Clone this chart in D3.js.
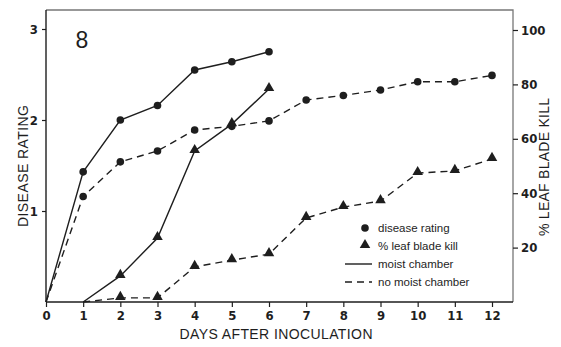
<html>
<style>
  body { margin: 0; background: #fff; }
  svg { font-family: "Liberation Sans", Helvetica, Arial, sans-serif; }
</style>
<script src="https://d3js.org/d3.v7.min.js"></script>
<body>
<svg id="chart" width="561" height="347"></svg>
</body>
<script>
  // days after inoculation
  const days = [0, 1, 2, 3, 4, 5, 6, 7, 8, 9, 10, 11, 12]
  // disease rating (left axis)
  const ratingMoist = [0, 1.43, 2.0, 2.16, 2.55, 2.64, 2.75]
  const ratingDry = [0, 1.16, 1.54, 1.66, 1.89, 1.93, 1.99, 2.22, 2.27, 2.33, 2.42, 2.42, 2.49]
  // % leaf blade kill (right axis), starting at day 1
  const killMoist = [0, 9.6, 23.5, 55.5, 65.4, 78.3]
  const killDry = [0, 1.5, 1.5, 12.9, 15.4, 17.6, 30.9, 34.9, 37.1, 47.4, 48.2, 52.6]
  const leftTicks = [1, 2, 3]
  const rightTicks = [20, 40, 60, 80, 100]
  const legendItems = ["disease rating", "% leaf blade kill", "moist chamber", "no moist chamber"]

  const ink = "#1e1e1e"
  const svg = d3.select("#chart")
  const x = d3.scaleLinear().domain([0, 12]).range([46, 492])
  const yL = d3.scaleLinear().domain([0, 3]).range([302, 29])
  const yR = d3.scaleLinear().domain([0, 100]).range([302, 30])
  const frameTop = 10, frameRight = 513

  // frame (top and right edges look faint in the scan)
  svg.append("path")
    .attr("d", `M${x(0)},${frameTop}H${frameRight}V${yL(0)}`)
    .attr("fill", "none").attr("stroke", "#777").attr("stroke-width", 1.3)

  // axes
  const xAxis = svg.append("g").attr("transform", `translate(0,${yL(0)})`)
    .call(d3.axisBottom(x).tickValues(days).tickSize(5).tickSizeOuter(0).tickPadding(4))
  xAxis.select(".domain").attr("d", `M${x(0)},0H${frameRight}`)

  const lAxis = svg.append("g").attr("transform", `translate(${x(0)},0)`)
    .call(d3.axisLeft(yL).tickValues(leftTicks).tickFormat(d3.format("d"))
      .tickSize(4).tickSizeOuter(0).tickPadding(4))
  lAxis.select(".domain").attr("d", `M0,${yL(0)}V${frameTop}`)

  const rAxis = svg.append("g").attr("transform", `translate(${frameRight},0)`)
    .call(d3.axisRight(yR).tickValues(rightTicks).tickSize(5).tickSizeOuter(0).tickPadding(3))
  rAxis.select(".domain").remove()

  svg.selectAll(".domain").attr("stroke", ink).attr("stroke-width", 1.4)
  svg.selectAll(".tick line").attr("stroke", ink).attr("stroke-width", 1.2)
  svg.selectAll(".tick text").attr("fill", ink).style("font-size", "13px")
    .style("font-weight", "bold").style("font-family", "'Liberation Sans Narrow', 'DejaVu Sans Condensed', sans-serif")

  // axis titles
  function title(t, tf, len) {
    svg.append("text").attr("transform", tf).attr("text-anchor", "middle")
      .attr("fill", ink).style("font-size", "14px")
      .attr("textLength", len).attr("lengthAdjust", "spacing")
      .text(t)
  }
  title("DAYS AFTER INOCULATION", "translate(276,339)", 193)
  title("DISEASE RATING", "translate(28,166) rotate(-90)", 122)
  title("% LEAF BLADE KILL", "translate(549,167) rotate(-90)", 138)

  // panel number
  svg.append("text").attr("x", 82).attr("y", 48).attr("text-anchor", "middle")
    .attr("fill", ink).style("font-size", "23px").text("8")

  const dash = "7,5"
  const lineL = d3.line().x((d, i) => x(days[i])).y(d => yL(d))
  const lineR = d3.line().x((d, i) => x(days[i + 1])).y(d => yR(d))

  function series(values, line, dashed) {
    svg.append("path").datum(values).attr("d", line)
      .attr("fill", "none").attr("stroke", ink).attr("stroke-width", 1.4)
      .attr("stroke-dasharray", dashed ? dash : null)
  }
  series(ratingMoist, lineL, false)
  series(ratingDry, lineL, true)
  series(killMoist, lineR, false)
  series(killDry, lineR, true)

  const tri = d3.symbol().type(d3.symbolTriangle).size(48)
  function circles(values) {
    svg.append("g").selectAll("circle").data(values.slice(1)).join("circle")
      .attr("cx", (d, i) => x(days[i + 1])).attr("cy", d => yL(d))
      .attr("r", 3.8).attr("fill", ink)
  }
  function triangles(values) {
    svg.append("g").selectAll("path").data(values.slice(1)).join("path")
      .attr("d", tri)
      .attr("transform", (d, i) => `translate(${x(days[i + 2])},${yR(d) - 1})`)
      .attr("fill", ink)
  }
  circles(ratingMoist)
  circles(ratingDry)
  triangles(killMoist)
  triangles(killDry)

  // legend
  const lg = svg.append("g").attr("transform", "translate(345,228)")
  legendItems.forEach((t, i) => {
    const cy = i * 18
    if (i === 0) lg.append("circle").attr("cx", 20).attr("cy", cy).attr("r", 3.8).attr("fill", ink)
    if (i === 1) lg.append("path").attr("d", tri).attr("transform", `translate(20,${cy - 1})`).attr("fill", ink)
    if (i >= 2) lg.append("line").attr("x1", 0).attr("x2", 27).attr("y1", cy).attr("y2", cy)
      .attr("stroke", ink).attr("stroke-width", 1.4).attr("stroke-dasharray", i === 3 ? dash : null)
    lg.append("text").attr("x", 33).attr("y", cy + 4).attr("fill", ink)
      .style("font-size", "11.5px").text(t)
  })
</script>
</html>
